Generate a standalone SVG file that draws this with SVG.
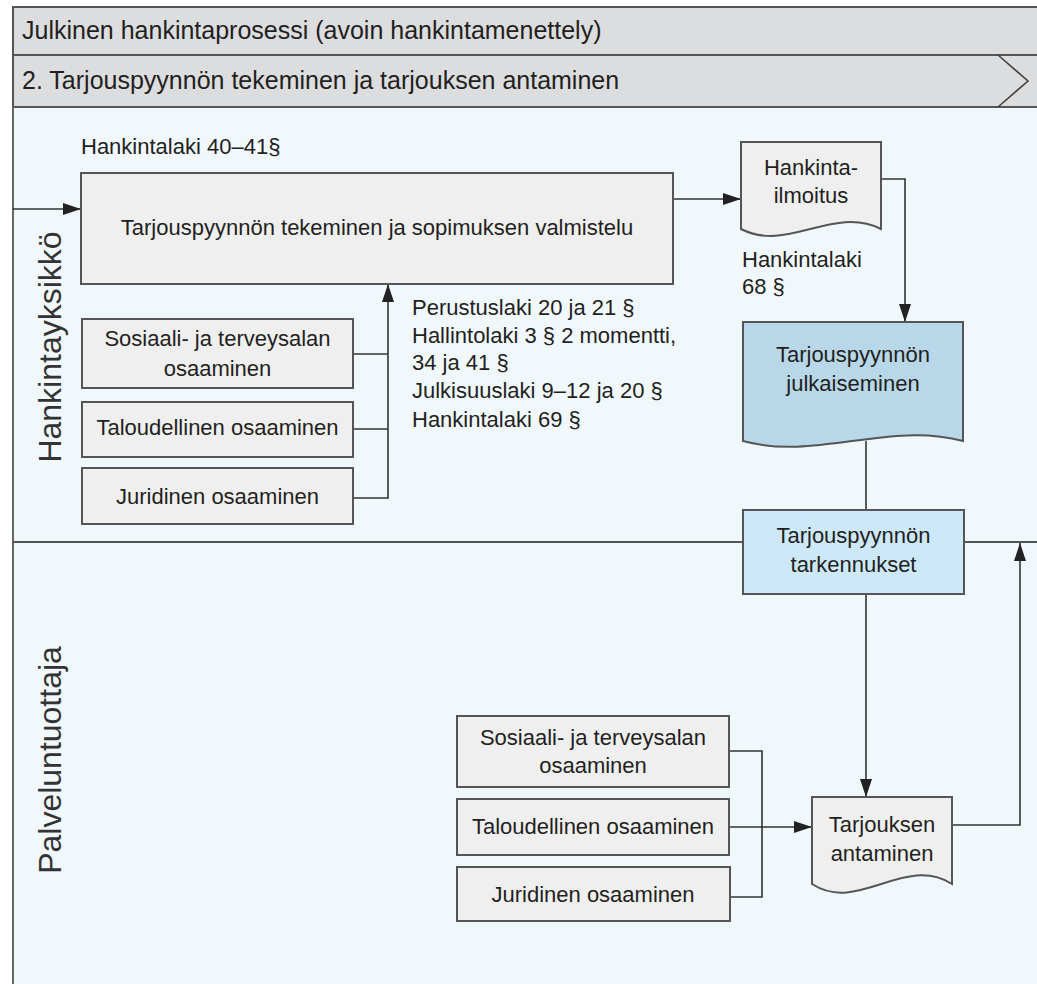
<svg xmlns="http://www.w3.org/2000/svg" width="1037" height="984" viewBox="0 0 1037 984">
<defs>
<style>
text{font-family:"Liberation Sans",Arial,sans-serif;fill:#231F20;}
.t{font-size:22px;}
.c{text-anchor:middle;}
.h{font-size:25px;}
.lane{font-size:32px;fill:#333;text-anchor:middle;}
.box{fill:#EFEFEF;stroke:#555;stroke-width:2;}
.hdr{fill:#DCDDDE;stroke:#555;stroke-width:2;}
.ln{fill:none;stroke:#333;stroke-width:1.6;}
.arr{fill:none;stroke:#333;stroke-width:1.6;marker-end:url(#ah);}
</style>
<marker id="ah" markerUnits="userSpaceOnUse" viewBox="0 0 18 12" refX="18" refY="6" markerWidth="18" markerHeight="12" orient="auto">
<path d="M0,0 L18,6 L0,12 Z" fill="#222"/>
</marker>
</defs>
<rect x="0" y="0" width="1037" height="984" fill="#FFFFFF"/>
<rect x="13" y="107" width="1030" height="880" fill="#F1F8FC"/>
<g id="header">
<rect class="hdr" x="13" y="7" width="1030" height="48"/>
<rect class="hdr" x="13" y="55" width="1030" height="52"/>
<polyline points="998,55 1028,81 998,107" fill="none" stroke="#444" stroke-width="1.6"/>
<text class="h" x="22" y="39">Julkinen hankintaprosessi (avoin hankintamenettely)</text>
<text class="h" x="22" y="89">2. Tarjouspyynnön tekeminen ja tarjouksen antaminen</text>
</g>
<g id="lanes">
<line x1="13" y1="107" x2="13" y2="984" stroke="#666" stroke-width="2"/>
<line x1="13" y1="542" x2="743" y2="542" stroke="#555" stroke-width="2"/>
<line x1="964" y1="542" x2="1037" y2="542" stroke="#555" stroke-width="2"/>
<text class="lane" transform="translate(61,347) rotate(-90)">Hankintayksikkö</text>
<text class="lane" transform="translate(61,760) rotate(-90)">Palveluntuottaja</text>
</g>
<g id="connectors">
<line class="arr" x1="13" y1="209" x2="81" y2="209"/>
<line class="arr" x1="673" y1="199" x2="741" y2="199"/>
<polyline class="arr" points="881,179 905,179 905,322"/>
<line class="ln" x1="866" y1="441" x2="866" y2="510"/>
<line class="arr" x1="866" y1="594" x2="866" y2="797"/>
<polyline class="arr" points="952,825 1020,825 1020,543"/>
<polyline class="ln" points="353,354 388,354"/>
<polyline class="ln" points="353,429 388,429"/>
<polyline class="arr" points="353,498 388,498 388,284"/>
<polyline class="ln" points="729,751 762,751 762,897 730,897"/>
<line class="arr" x1="729" y1="827" x2="812" y2="827"/>
</g>
<g id="law-labels">
<text class="t" x="81" y="154">Hankintalaki 40–41§</text>
<text class="t" x="742" y="267">Hankintalaki</text>
<text class="t" x="742" y="294">68 §</text>
<text class="t" x="412" y="315">Perustuslaki 20 ja 21 §</text>
<text class="t" x="412" y="343">Hallintolaki 3 § 2 momentti,</text>
<text class="t" x="412" y="370">34 ja 41 §</text>
<text class="t" x="412" y="398">Julkisuuslaki 9–12 ja 20 §</text>
<text class="t" x="412" y="427">Hankintalaki 69 §</text>
</g>
<g id="node-valmistelu">
<rect class="box" x="81" y="173" width="592" height="111"/>
<text class="t c" x="377" y="235">Tarjouspyynnön tekeminen ja sopimuksen valmistelu</text>
</g>
<g id="node-sote1">
<rect class="box" x="82" y="319" width="271" height="69"/>
<text class="t c" x="217.5" y="346">Sosiaali- ja terveysalan</text>
<text class="t c" x="217.5" y="376">osaaminen</text>
</g>
<g id="node-talous1">
<rect class="box" x="82" y="402" width="271" height="55"/>
<text class="t c" x="217.5" y="435">Taloudellinen osaaminen</text>
</g>
<g id="node-juridinen1">
<rect class="box" x="82" y="468" width="271" height="56"/>
<text class="t c" x="217.5" y="504">Juridinen osaaminen</text>
</g>
<g id="node-hankintailmoitus">
<path class="box" d="M741,142 H881 V229 C833.4,205 787.2,253 741,229 Z"/>
<text class="t c" x="811" y="175">Hankinta-</text>
<text class="t c" x="811" y="203">ilmoitus</text>
</g>
<g id="node-julkaiseminen">
<path d="M743,322 H963 V441 C888.2,421 815.6,461 743,441 Z" fill="#B8D8E9" stroke="#555" stroke-width="2"/>
<text class="t c" x="853" y="362">Tarjouspyynnön</text>
<text class="t c" x="853" y="391">julkaiseminen</text>
</g>
<g id="node-tarkennukset">
<rect x="743" y="510" width="221" height="84" fill="#CDE9F9" stroke="#555" stroke-width="2"/>
<text class="t c" x="853.5" y="543">Tarjouspyynnön</text>
<text class="t c" x="853.5" y="572">tarkennukset</text>
</g>
<g id="node-sote2">
<rect class="box" x="457" y="716" width="272" height="71"/>
<text class="t c" x="593" y="745">Sosiaali- ja terveysalan</text>
<text class="t c" x="593" y="773">osaaminen</text>
</g>
<g id="node-talous2">
<rect class="box" x="457" y="799" width="272" height="56"/>
<text class="t c" x="593" y="834">Taloudellinen osaaminen</text>
</g>
<g id="node-juridinen2">
<rect class="box" x="457" y="867" width="273" height="54"/>
<text class="t c" x="593" y="902">Juridinen osaaminen</text>
</g>
<g id="node-tarjouksen">
<path class="box" d="M812,797 H952 V884 C904.4,854 858.2,914 812,884 Z"/>
<text class="t c" x="882" y="832">Tarjouksen</text>
<text class="t c" x="882" y="861">antaminen</text>
</g>
</svg>
